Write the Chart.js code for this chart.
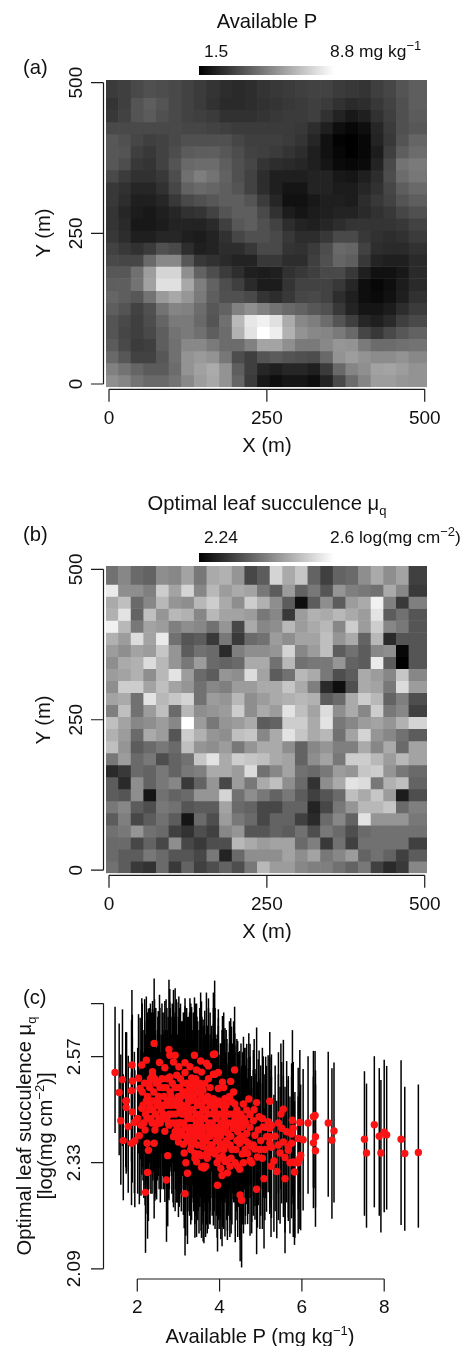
<!DOCTYPE html>
<html>
<head>
<meta charset="utf-8">
<script src="https://cdn.jsdelivr.net/npm/chart.js@4/dist/chart.umd.min.js"></script>
<style>
html, body { margin: 0; padding: 0; background: #fff; }
#page { position: relative; width: 464px; height: 1346px; overflow: hidden; font-family: "Liberation Sans", Arial, sans-serif; color: #111; }
canvas { position: absolute; left: 0; }
.t { position: absolute; white-space: nowrap; font-size: 20.2px; line-height: 22px; }
.key { font-size: 17.4px; }
.key sup { font-size: 11.5px; }
.rot { transform: translate(-50%, -50%) rotate(-90deg); }
.mid { transform: translateX(-50%); }
.t sup, .t sub { font-size: 13px; line-height: 0; }
.ramp { position: absolute; left: 199px; width: 135px; background: linear-gradient(to right, #000, #fff); }
</style>
</head>
<body>
<div id="page">
  <canvas id="panelA"></canvas>
  <canvas id="panelB"></canvas>
  <canvas id="panelC"></canvas>

  <div class="t mid" style="left:267px;top:10px">Available P</div>
  <div class="t key" style="left:204px;top:40px">1.5</div>
  <div class="t key" style="left:330px;top:40px">8.8 mg kg<sup>−1</sup></div>
  <div class="ramp" style="top:66px;height:9px"></div>
  <div class="t" style="left:23px;top:56px">(a)</div>
  <div class="t mid" style="left:267px;top:434px">X (m)</div>
  <div class="t rot" style="left:43px;top:233px">Y (m)</div>

  <div class="t mid" style="left:267px;top:492px">Optimal leaf succulence μ<sub>q</sub></div>
  <div class="t key" style="left:204px;top:526px">2.24</div>
  <div class="t key" style="left:330px;top:526px">2.6 log(mg cm<sup>−2</sup>)</div>
  <div class="ramp" style="top:553px;height:9px"></div>
  <div class="t" style="left:23px;top:523px">(b)</div>
  <div class="t mid" style="left:267px;top:920px">X (m)</div>
  <div class="t rot" style="left:43px;top:720px">Y (m)</div>

  <div class="t" style="left:23px;top:986px">(c)</div>
  <div class="t rot" style="left:24px;top:1136px">Optimal leaf succulence μ<sub>q</sub></div>
  <div class="t rot" style="left:45px;top:1136px">[log(mg cm<sup>−2</sup>)]</div>
  <div class="t mid" style="left:260px;top:1325px">Available P (mg kg<sup>−1</sup>)</div>
</div>

<script>
// cell edges in metres, and tick values
const gridEdges = [-5, 15, 35, 55, 75, 95, 115, 135, 155, 175, 195, 215, 235, 255, 275, 295, 315, 335, 355, 375, 395, 415, 435, 455, 475, 505];
const rowEdges = gridEdges.slice().reverse();
const mapTicks = [0, 250, 500];
const pTicks = [2, 4, 6, 8];
const muTicks = [2.09, 2.33, 2.57, 2.69];
const muTickLabels = ['2.09', '2.33', '2.57', ''];

// panel (a) available P, rows from the top
const availableP = [
[3.2,3.3,3.6,3.8,3.7, 3.6,3.4,3.2,3.0,2.8, 2.7,2.8,3.0,3.1,3.2, 3.3,3.4,3.4,3.2,3.1, 3.0,3.3,3.5,3.9,4.2],
[3.0,3.3,3.9,4.2,3.9, 3.6,3.4,3.2,2.9,2.7, 2.7,2.8,2.9,3.0,3.1, 3.2,3.3,3.2,2.9,2.7, 2.8,3.1,3.4,3.8,4.2],
[3.1,3.4,3.9,4.1,3.8, 3.6,3.4,3.3,3.2,2.9, 2.9,2.9,3.0,3.1,3.2, 3.2,3.3,2.9,2.5,2.2, 2.4,2.9,3.3,3.8,4.1],
[3.6,3.6,3.6,3.6,3.6, 3.6,3.5,3.5,3.4,3.3, 3.2,3.2,3.2,3.2,3.2, 3.1,2.8,2.4,1.9,1.7, 1.9,2.6,3.2,3.8,4.0],
[4.0,3.8,3.5,3.3,3.4, 3.6,3.8,3.8,3.8,3.8, 3.5,3.3,3.3,3.3,3.2, 3.0,2.6,2.0,1.6,1.5, 1.7,2.5,3.1,3.9,4.4],
[4.0,3.9,3.3,3.1,3.4, 3.7,4.1,4.2,4.2,4.0, 3.7,3.4,3.3,3.2,3.0, 2.8,2.4,2.0,1.7,1.5, 1.7,2.3,3.3,4.2,4.6],
[4.0,3.7,3.1,3.0,3.4, 3.9,4.5,4.6,4.6,4.2, 3.8,3.5,3.0,2.8,2.7, 2.6,2.4,2.1,1.8,1.7, 1.8,2.5,3.6,4.8,5.0],
[3.6,3.2,2.9,2.9,3.1, 3.7,4.7,5.1,4.8,4.3, 3.8,3.4,2.8,2.4,2.4, 2.4,2.5,2.5,2.2,2.1, 2.4,2.8,3.7,4.6,4.9],
[3.1,2.9,2.6,2.6,2.9, 3.5,4.3,4.5,4.4,4.2, 3.9,3.4,2.8,2.4,2.1, 2.1,2.5,2.5,2.3,2.3, 2.6,2.9,3.5,4.2,4.5],
[3.1,2.8,2.4,2.4,2.6, 3.1,3.6,3.8,4.0,4.2, 4.2,3.9,3.2,2.6,2.0, 2.0,2.2,2.4,2.4,2.3, 2.8,3.1,3.4,3.9,4.2],
[3.0,2.6,2.3,2.2,2.4, 2.6,2.9,3.0,3.4,3.9, 4.2,4.2,3.6,2.9,2.3, 2.1,2.3,2.4,2.5,2.5, 2.7,2.9,3.1,3.5,3.8],
[3.0,2.7,2.2,2.2,2.3, 2.5,2.5,2.5,2.7,3.3, 4.0,4.2,3.8,3.4,2.8, 2.5,2.4,2.6,2.8,3.0, 3.0,3.0,3.0,3.1,3.4],
[3.1,2.8,2.4,2.4,2.6, 2.6,2.4,2.3,2.5,2.9, 3.5,3.8,3.8,3.6,3.1, 2.8,2.8,3.1,3.6,3.6, 3.1,2.9,2.8,2.9,3.2],
[3.4,3.1,2.9,3.2,3.8, 3.6,2.8,2.4,2.5,2.8, 2.8,3.1,3.6,3.6,3.0, 2.9,3.2,3.7,4.5,4.4, 3.4,2.8,2.7,2.7,2.9],
[3.6,3.5,3.5,4.5,5.4, 5.4,4.0,3.1,2.9,2.7, 2.5,2.5,3.1,3.1,2.8, 2.8,3.3,3.8,4.4,4.2, 3.1,2.5,2.4,2.4,2.7],
[4.0,4.0,4.7,6.0,7.6, 7.6,5.6,4.3,3.7,3.2, 2.8,2.4,2.3,2.4,2.9, 3.1,3.3,3.6,3.6,3.1, 2.4,2.0,2.0,2.2,2.7],
[4.2,4.2,4.8,6.1,7.9, 7.9,6.3,5.1,4.3,3.7, 3.3,2.7,2.3,2.3,3.0, 3.4,3.4,3.4,3.1,2.6, 1.9,1.7,1.9,2.3,2.7],
[4.4,4.2,4.0,4.8,5.9, 6.3,5.8,5.0,4.2,3.8, 3.8,3.6,3.0,2.8,3.1, 3.5,3.6,3.4,2.8,2.4, 1.9,1.8,2.0,2.4,2.9],
[4.2,3.9,3.4,3.8,4.8, 5.3,5.2,4.6,4.0,4.3, 5.2,5.6,5.2,4.8,4.5, 4.3,4.0,3.8,3.1,2.5, 2.1,2.1,2.3,2.8,3.2],
[3.9,3.6,3.3,3.7,4.4, 5.0,5.0,4.5,3.9,4.7, 6.8,8.1,8.4,7.9,6.4, 5.4,5.1,4.6,3.9,3.3, 2.6,2.4,2.7,3.3,3.6],
[3.9,3.5,3.3,3.6,4.2, 4.8,5.0,4.7,4.2,4.6, 6.6,8.0,8.8,8.3,6.6, 5.7,5.4,5.3,5.0,4.5, 3.5,3.1,3.6,4.0,4.3],
[4.1,3.6,3.2,3.3,4.2, 4.7,5.4,5.4,5.0,4.6, 4.6,5.2,6.2,6.2,5.6, 5.0,5.0,5.4,5.8,5.7, 5.0,4.6,4.6,4.7,4.8],
[4.5,4.0,3.4,3.4,4.0, 4.7,5.7,5.9,5.7,4.9, 3.7,3.3,3.9,4.1,3.9, 3.8,3.7,4.5,5.7,6.0, 5.7,5.5,5.5,5.7,5.4],
[5.2,4.8,4.4,4.1,4.1, 4.6,5.7,6.1,6.4,5.7, 4.2,3.3,2.6,2.4,2.6, 2.6,2.4,3.2,4.5,5.3, 5.6,6.1,6.2,6.0,5.7],
[5.6,5.3,4.8,4.5,4.5, 4.8,5.4,6.0,6.3,5.7, 4.4,3.2,2.2,1.9,2.1, 2.1,1.9,2.5,3.6,4.6, 5.3,6.0,6.0,5.8,5.7]
];

// panel (b) optimal leaf succulence, rows from the top
const succulence = [
[2.40,2.43,2.39,2.38,2.44, 2.43,2.47,2.41,2.48,2.49, 2.45,2.34,2.37,2.54,2.48, 2.52,2.38,2.33,2.38,2.39, 2.44,2.48,2.44,2.47,2.33],
[2.57,2.44,2.44,2.42,2.53, 2.47,2.54,2.43,2.50,2.46, 2.48,2.47,2.41,2.37,2.46, 2.38,2.41,2.36,2.45,2.42, 2.41,2.40,2.48,2.43,2.32],
[2.48,2.51,2.39,2.43,2.50, 2.45,2.44,2.50,2.53,2.48, 2.44,2.53,2.49,2.44,2.37, 2.26,2.37,2.44,2.37,2.46, 2.48,2.58,2.42,2.32,2.42],
[2.49,2.56,2.38,2.51,2.45, 2.50,2.49,2.43,2.50,2.47, 2.47,2.46,2.41,2.43,2.32, 2.46,2.49,2.48,2.50,2.48, 2.46,2.56,2.37,2.40,2.36],
[2.58,2.50,2.41,2.47,2.46, 2.42,2.44,2.43,2.40,2.45, 2.34,2.48,2.43,2.44,2.50, 2.46,2.48,2.50,2.43,2.53, 2.46,2.53,2.43,2.41,2.36],
[2.49,2.46,2.55,2.47,2.57, 2.40,2.36,2.37,2.32,2.41, 2.32,2.39,2.40,2.46,2.44, 2.47,2.47,2.51,2.45,2.48, 2.38,2.50,2.30,2.36,2.36],
[2.46,2.44,2.47,2.46,2.52, 2.45,2.37,2.40,2.39,2.30, 2.42,2.44,2.44,2.45,2.54, 2.43,2.46,2.51,2.37,2.40, 2.37,2.43,2.44,2.25,2.36],
[2.44,2.48,2.49,2.55,2.50, 2.45,2.41,2.46,2.39,2.38, 2.39,2.48,2.48,2.40,2.50, 2.40,2.41,2.41,2.45,2.38, 2.37,2.57,2.37,2.24,2.36],
[2.46,2.47,2.49,2.44,2.50, 2.56,2.46,2.39,2.37,2.45, 2.44,2.55,2.47,2.37,2.40, 2.50,2.48,2.41,2.35,2.37, 2.48,2.46,2.43,2.52,2.43],
[2.44,2.53,2.53,2.47,2.51, 2.47,2.45,2.40,2.43,2.42, 2.46,2.46,2.48,2.48,2.52, 2.48,2.42,2.30,2.26,2.35, 2.48,2.47,2.41,2.55,2.46],
[2.47,2.48,2.40,2.56,2.50, 2.52,2.54,2.40,2.46,2.45, 2.50,2.44,2.46,2.48,2.49, 2.50,2.49,2.37,2.39,2.48, 2.53,2.50,2.38,2.42,2.35],
[2.42,2.51,2.40,2.46,2.51, 2.39,2.50,2.44,2.45,2.46, 2.53,2.44,2.48,2.46,2.56, 2.51,2.47,2.55,2.44,2.48, 2.43,2.53,2.41,2.43,2.33],
[2.51,2.47,2.43,2.44,2.46, 2.43,2.60,2.46,2.41,2.45, 2.46,2.48,2.37,2.38,2.53, 2.53,2.48,2.56,2.41,2.43, 2.46,2.47,2.45,2.49,2.54],
[2.49,2.46,2.39,2.48,2.46, 2.36,2.53,2.49,2.45,2.44, 2.51,2.52,2.43,2.48,2.56, 2.52,2.48,2.50,2.40,2.47, 2.54,2.45,2.43,2.40,2.37],
[2.51,2.45,2.37,2.39,2.41, 2.39,2.51,2.45,2.44,2.46, 2.41,2.45,2.48,2.48,2.44, 2.38,2.43,2.45,2.42,2.42, 2.48,2.43,2.48,2.39,2.47],
[2.41,2.46,2.39,2.41,2.35, 2.38,2.40,2.52,2.56,2.48, 2.53,2.52,2.51,2.48,2.47, 2.38,2.44,2.47,2.41,2.53, 2.53,2.50,2.46,2.50,2.47],
[2.30,2.32,2.39,2.38,2.41, 2.38,2.41,2.42,2.48,2.48, 2.46,2.55,2.40,2.43,2.47, 2.40,2.39,2.41,2.46,2.45, 2.52,2.53,2.45,2.41,2.39],
[2.37,2.30,2.44,2.38,2.41, 2.43,2.32,2.38,2.45,2.34, 2.46,2.41,2.48,2.51,2.44, 2.39,2.31,2.44,2.48,2.56, 2.55,2.41,2.49,2.51,2.38],
[2.37,2.36,2.44,2.27,2.40, 2.38,2.39,2.45,2.45,2.54, 2.40,2.44,2.41,2.38,2.41, 2.37,2.33,2.36,2.39,2.51, 2.48,2.52,2.46,2.28,2.35],
[2.41,2.43,2.37,2.35,2.41, 2.40,2.36,2.37,2.37,2.47, 2.39,2.38,2.34,2.34,2.38, 2.38,2.29,2.34,2.41,2.45, 2.50,2.50,2.52,2.39,2.42],
[2.37,2.42,2.34,2.37,2.40, 2.37,2.27,2.39,2.35,2.46, 2.41,2.39,2.34,2.38,2.38, 2.33,2.30,2.39,2.43,2.38, 2.56,2.45,2.45,2.45,2.41],
[2.40,2.41,2.45,2.40,2.39, 2.33,2.31,2.35,2.33,2.43, 2.45,2.36,2.36,2.38,2.37, 2.40,2.35,2.41,2.39,2.35, 2.39,2.40,2.40,2.40,2.40],
[2.39,2.39,2.34,2.38,2.34, 2.44,2.34,2.32,2.35,2.35, 2.50,2.48,2.46,2.47,2.47, 2.39,2.42,2.32,2.40,2.33, 2.40,2.40,2.40,2.40,2.33],
[2.39,2.37,2.37,2.41,2.39, 2.36,2.36,2.34,2.41,2.29, 2.39,2.44,2.44,2.44,2.47, 2.44,2.47,2.41,2.43,2.46, 2.38,2.40,2.38,2.33,2.37],
[2.40,2.37,2.32,2.31,2.39, 2.32,2.38,2.33,2.35,2.38, 2.35,2.41,2.50,2.46,2.46, 2.43,2.42,2.42,2.40,2.38, 2.41,2.33,2.30,2.32,2.43]
];

// panel (c) posterior means with their intervals
const pX = [
1.46,1.56,1.64,1.60,1.73,1.74,1.78,1.66,1.86,1.87,
1.94,2.05,2.25,2.71,2.20,3.16,2.74,3.22,3.18,3.14,
2.27,2.24,2.41,2.11,2.22,2.54,2.77,2.79,2.92,2.88,
3.16,3.39,3.01,2.67,2.37,2.37,3.28,3.44,3.54,3.68,
3.73,3.85,3.85,3.32,3.16,2.79,2.96,2.03,1.88,1.86,
2.07,2.27,2.51,3.64,3.60,1.72,1.88,2.11,2.24,2.01,
1.93,2.09,2.19,2.47,2.43,2.77,2.67,2.88,3.00,3.12,
2.41,3.40,3.55,3.40,3.44,3.60,3.66,3.85,3.77,3.60,
2.12,2.18,2.25,2.30,2.35,2.40,2.45,2.50,2.55,2.60,
2.65,2.70,2.75,2.80,2.85,2.90,2.95,3.00,3.05,3.10,
3.15,3.20,3.25,3.30,3.35,3.40,3.45,3.50,3.55,3.60,
2.14,2.20,2.28,2.33,2.38,2.44,2.49,2.53,2.58,2.63,
2.68,2.72,2.78,2.83,2.87,2.93,2.98,3.03,3.08,3.13,
3.18,3.23,3.28,3.33,3.38,3.43,3.48,3.53,3.58,3.63,
3.68,3.72,3.77,3.82,3.87,3.92,3.97,4.02,4.07,4.12,
3.03,3.07,3.12,3.22,3.27,3.37,3.42,3.47,3.52,3.57,
2.92,2.97,3.02,3.07,3.17,3.22,3.27,3.32,3.37,3.42,
3.47,3.52,3.57,3.62,3.67,3.72,3.77,3.82,3.87,3.92,
3.97,4.02,4.07,4.12,4.17,4.22,4.27,4.32,4.37,4.42,
3.88,4.365,3.89,3.97,4.27,4.07,3.73,3.56,5.22,5.55,
4.71,4.90,4.58,6.28,6.32,6.15,5.95,5.77,6.33,6.03,
6.28,6.33,5.97,5.91,5.83,5.71,5.82,5.59,5.39,5.32,
5.25,5.08,4.92,4.90,4.50,4.535,3.95,4.06,4.19,4.03,
4.25,3.62,3.56,4.49,4.44,4.78,4.74,4.68,4.19,4.13,
4.07,3.89,3.70,4.40,4.37,4.29,4.13,3.85,3.62,3.77,
3.97,4.66,4.74,4.96,4.44,4.37,4.49,4.82,5.18,5.26,
5.43,5.22,5.06,5.51,5.63,5.79,5.75,5.14,5.22,4.94,
4.86,4.66,4.49,4.33,4.21,4.01,3.85,3.73,5.43,5.22,
5.26,5.55,5.67,5.75,5.91,5.47,5.59,4.70,4.78,4.86,
4.49,4.21,4.01,3.75,3.60,5.67,5.79,5.95,6.64,6.78,
6.73,7.52,7.57,7.76,7.88,7.92,8.00,8.06,8.41,8.50,
8.83,4.52,4.56,4.60,4.63,4.84,5.00,5.04,5.10,5.35,
5.49,5.12,4.16,4.24,4.34,4.10,4.18,4.30,4.42,4.55,
2.32,2.42,2.62,2.72,2.82,2.92,3.02,3.11,3.21,3.31,
3.36,3.46,3.56,3.66,3.71,3.81,3.91,3.96,4.06,4.11,
2.22,2.31,2.42,2.52,2.62,2.73,2.84,2.94,3.04,3.14,
3.24,3.34,3.44,3.54,3.64,3.74,3.84,3.94,4.04,4.14,
2.16,2.26,2.36,2.46,2.56,2.66,2.76,2.96,3.06,3.16,
3.26,3.36,3.46,3.56,3.76,3.86,3.96,4.16,4.26,4.46,
4.04,4.24,4.34,4.44,4.54,4.64,4.74,4.28,4.38,3.99,
3.30,3.50,3.68,3.94,4.10,4.58,4.62,4.82,4.98,5.04
];
const pY = [
2.534,2.489,2.518,2.425,2.455,2.470,2.412,2.380,2.374,2.551,
2.379,2.391,2.308,2.291,2.263,2.260,2.346,2.306,2.330,2.352,
2.358,2.374,2.600,2.551,2.562,2.557,2.586,2.573,2.573,2.558,
2.556,2.573,2.547,2.545,2.536,2.528,2.547,2.540,2.560,2.555,
2.549,2.575,2.530,2.522,2.534,2.524,2.528,2.521,2.515,2.493,
2.498,2.509,2.513,2.509,2.494,2.470,2.445,2.453,2.430,2.430,
2.421,2.415,2.404,2.417,2.404,2.415,2.401,2.389,2.377,2.372,
2.374,2.351,2.346,2.340,2.332,2.322,2.322,2.358,2.370,2.366,
2.49,2.51,2.48,2.50,2.47,2.49,2.51,2.47,2.50,2.52,
2.48,2.50,2.46,2.49,2.51,2.47,2.50,2.48,2.52,2.46,
2.49,2.51,2.47,2.49,2.45,2.50,2.47,2.43,2.48,2.45,
2.46,2.44,2.45,2.43,2.45,2.44,2.46,2.43,2.45,2.44,
2.46,2.43,2.44,2.46,2.42,2.44,2.46,2.42,2.44,2.42,
2.45,2.43,2.41,2.43,2.41,2.44,2.40,2.42,2.40,2.43,
2.47,2.44,2.46,2.42,2.45,2.43,2.47,2.44,2.42,2.45,
2.50,2.48,2.51,2.48,2.50,2.48,2.52,2.49,2.51,2.50,
2.40,2.41,2.39,2.40,2.39,2.38,2.39,2.37,2.38,2.39,
2.37,2.39,2.37,2.39,2.38,2.36,2.39,2.37,2.40,2.38,
2.36,2.39,2.37,2.40,2.38,2.42,2.39,2.44,2.41,2.38,
2.576,2.540,2.530,2.534,2.514,2.512,2.520,2.535,2.469,2.451,
2.474,2.466,2.463,2.434,2.437,2.420,2.421,2.426,2.389,2.382,
2.375,2.357,2.347,2.330,2.330,2.330,2.309,2.294,2.310,2.334,
2.322,2.294,2.343,2.270,2.257,2.245,2.279,2.301,2.307,2.317,
2.322,2.318,2.320,2.315,2.322,2.330,2.335,2.351,2.336,2.333,
2.345,2.350,2.340,2.360,2.463,2.468,2.475,2.475,2.470,2.500,
2.498,2.449,2.439,2.434,2.435,2.426,2.423,2.425,2.423,2.415,
2.420,2.408,2.411,2.408,2.400,2.408,2.395,2.389,2.389,2.404,
2.392,2.396,2.385,2.408,2.396,2.404,2.396,2.411,2.370,2.374,
2.365,2.377,2.366,2.374,2.385,2.352,2.342,2.374,2.366,2.361,
2.374,2.370,2.374,2.352,2.381,2.358,2.332,2.340,2.420,2.402,
2.381,2.383,2.352,2.416,2.390,2.352,2.399,2.393,2.383,2.351,
2.353,2.44,2.41,2.43,2.38,2.45,2.38,2.43,2.36,2.39,
2.44,2.41,2.46,2.48,2.49,2.50,2.44,2.36,2.45,2.35,
2.52,2.52,2.50,2.52,2.48,2.50,2.47,2.49,2.46,2.47,
2.51,2.46,2.46,2.45,2.48,2.47,2.46,2.44,2.46,2.43,
2.47,2.46,2.47,2.48,2.46,2.47,2.44,2.46,2.45,2.44,
2.44,2.45,2.42,2.44,2.41,2.42,2.44,2.41,2.42,2.41,
2.42,2.43,2.42,2.42,2.42,2.43,2.42,2.42,2.42,2.41,
2.40,2.40,2.41,2.41,2.40,2.41,2.39,2.40,2.37,2.41,
2.40,2.44,2.42,2.40,2.39,2.42,2.41,2.34,2.33,2.34,
2.36,2.35,2.35,2.33,2.36,2.33,2.36,2.37,2.36,2.34
];
const errUp = [
.149,.156,.159,.15,.17,.155,.16,.15,.16,.17,
.16,.15,.16,.16,.17,.17,.17,.18,.17,.16,
.17,.16,.147,.151,.144,.153,.158,.15,.152,.163,
.146,.131,.159,.151,.16,.15,.155,.15,.155,.16,
.153,.14,.15,.16,.15,.17,.165,.145,.15,.16,
.16,.17,.16,.165,.16,.155,.17,.17,.17,.16,
.16,.17,.16,.16,.17,.17,.18,.17,.18,.17,
.17,.17,.18,.17,.18,.17,.18,.17,.18,.17,
.2,.19,.19,.18,.2,.18,.17,.19,.18,.17,
.19,.2,.2,.19,.18,.19,.2,.18,.17,.19,
.18,.17,.19,.2,.18,.17,.19,.2,.18,.19,
.17,.18,.17,.18,.17,.18,.17,.18,.17,.18,
.17,.18,.17,.16,.18,.17,.16,.18,.17,.18,
.16,.17,.18,.17,.16,.17,.18,.17,.18,.16,
.17,.18,.16,.17,.16,.18,.17,.16,.17,.16,
.18,.17,.16,.18,.17,.16,.17,.16,.17,.16,
.17,.18,.17,.18,.17,.18,.17,.18,.17,.18,
.17,.16,.18,.17,.18,.17,.16,.17,.16,.17,
.17,.16,.17,.16,.17,.16,.17,.16,.17,.16,
.166,.143,.15,.143,.143,.15,.16,.16,.157,.157,
.149,.17,.152,.149,.146,.151,.164,.204,.15,.16,
.15,.15,.16,.15,.16,.15,.16,.16,.16,.15,
.15,.16,.17,.16,.17,.16,.17,.17,.17,.17,
.17,.18,.17,.17,.18,.17,.16,.17,.17,.18,
.17,.18,.17,.17,.16,.17,.16,.17,.16,.17,
.16,.15,.16,.15,.17,.17,.16,.16,.15,.16,
.16,.16,.16,.15,.16,.15,.16,.16,.15,.16,
.15,.17,.16,.17,.16,.17,.18,.17,.16,.15,
.16,.15,.16,.15,.16,.15,.16,.17,.16,.17,
.16,.17,.17,.18,.17,.16,.16,.15,.161,.155,
.163,.154,.157,.155,.154,.165,.164,.156,.179,.151,
.154,.16,.17,.16,.17,.16,.17,.16,.17,.16,
.16,.16,.17,.17,.16,.17,.17,.18,.16,.17,
.17,.18,.17,.16,.18,.17,.18,.16,.17,.18,
.16,.17,.18,.17,.16,.17,.16,.18,.17,.16,
.18,.17,.16,.18,.17,.16,.18,.17,.16,.18,
.17,.16,.18,.17,.16,.18,.17,.16,.18,.17,
.16,.17,.18,.17,.16,.18,.17,.16,.18,.17,
.18,.16,.17,.18,.16,.17,.18,.17,.16,.17,
.17,.16,.17,.18,.16,.17,.16,.17,.16,.18,
.17,.18,.16,.17,.16,.17,.16,.17,.16,.17
];
const errDown = [
.137,.142,.15,.145,.15,.16,.15,.135,.14,.16,
.15,.155,.15,.14,.137,.14,.16,.16,.165,.17,
.16,.16,.16,.16,.16,.17,.17,.16,.17,.165,
.17,.17,.16,.16,.17,.16,.16,.17,.16,.17,
.16,.17,.16,.17,.16,.16,.15,.17,.155,.16,
.16,.15,.17,.15,.17,.15,.16,.15,.17,.17,
.16,.16,.17,.17,.16,.17,.16,.16,.17,.16,
.17,.16,.17,.18,.17,.17,.16,.17,.18,.17,
.17,.16,.18,.17,.16,.18,.17,.16,.18,.17,
.17,.18,.16,.17,.18,.16,.17,.18,.17,.16,
.18,.17,.16,.18,.17,.16,.18,.17,.16,.18,
.17,.16,.18,.17,.16,.18,.17,.16,.18,.17,
.16,.18,.17,.16,.18,.17,.16,.18,.17,.16,
.18,.17,.16,.18,.17,.16,.18,.17,.16,.18,
.17,.16,.18,.17,.16,.18,.17,.16,.18,.17,
.16,.18,.17,.16,.18,.17,.16,.18,.17,.16,
.18,.17,.16,.18,.17,.16,.18,.17,.16,.18,
.17,.16,.18,.17,.16,.18,.17,.16,.18,.17,
.16,.18,.17,.16,.18,.17,.16,.18,.17,.16,
.17,.16,.16,.15,.16,.17,.16,.15,.16,.165,
.16,.16,.16,.16,.165,.16,.16,.17,.16,.16,
.148,.172,.17,.16,.17,.16,.165,.169,.151,.16,
.16,.158,.16,.147,.15,.152,.15,.16,.152,.16,
.16,.17,.16,.16,.16,.16,.17,.16,.16,.17,
.16,.17,.17,.16,.17,.16,.16,.17,.17,.16,
.17,.17,.16,.17,.16,.17,.16,.17,.16,.17,
.16,.17,.16,.17,.16,.17,.16,.17,.16,.17,
.16,.16,.17,.16,.17,.16,.17,.16,.17,.16,
.16,.17,.16,.17,.16,.16,.17,.16,.17,.16,
.17,.16,.17,.16,.17,.16,.17,.16,.167,.162,
.178,.173,.169,.187,.18,.18,.181,.169,.194,.175,
.17,.17,.16,.16,.17,.16,.17,.16,.16,.17,
.17,.16,.16,.17,.16,.17,.16,.17,.16,.16,
.16,.17,.18,.16,.17,.18,.16,.17,.18,.16,
.17,.18,.16,.17,.18,.16,.17,.18,.16,.17,
.18,.16,.17,.18,.16,.17,.18,.16,.17,.18,
.16,.17,.18,.16,.17,.18,.16,.17,.18,.16,
.17,.18,.16,.17,.18,.16,.17,.18,.16,.17,
.18,.16,.17,.18,.16,.17,.18,.16,.17,.18,
.16,.17,.18,.16,.17,.18,.16,.17,.18,.16,
.17,.18,.16,.17,.18,.16,.17,.16,.18,.16
];

// draws the R style axes, set off from the plot, from the scales' own ticks
const offsetAxes = {
    id: 'offsetAxes',
    afterDraw(chart, args, opts) {
        const { ctx, chartArea, scales } = chart;
        const xTicks = scales.x.ticks.map(t => scales.x.getPixelForValue(t.value));
        const yTicks = scales.y.ticks.map(t => scales.y.getPixelForValue(t.value));
        const axisY = chartArea.bottom + opts.gapX;
        const axisX = chartArea.left - opts.gapY;
        ctx.save();
        ctx.strokeStyle = '#1a1a1a';
        ctx.lineWidth = 1.2;
        ctx.beginPath();
        ctx.moveTo(xTicks[0], axisY);
        ctx.lineTo(xTicks[xTicks.length - 1], axisY);
        xTicks.forEach(px => { ctx.moveTo(px, axisY); ctx.lineTo(px, axisY + 12.5); });
        ctx.moveTo(axisX, yTicks[0]);
        ctx.lineTo(axisX, yTicks[yTicks.length - 1]);
        yTicks.forEach(py => { ctx.moveTo(axisX, py); ctx.lineTo(axisX - 12.5, py); });
        ctx.stroke();
        ctx.restore();
    }
};

function axisOptions(min, max, tickValues, isY, width, labels) {
    return {
        type: 'linear',
        min: min,
        max: max,
        offset: false,
        grid: { display: false, drawTicks: false },
        border: { display: false },
        afterBuildTicks: s => { s.ticks = tickValues.map(v => ({ value: v })); },
        afterFit: s => { if (isY) s.width = width; else s.height = width; },
        ticks: {
            autoSkip: false,
            color: '#111',
            font: { family: '"Liberation Sans", Arial, sans-serif', size: 19 },
            padding: isY ? 13 : 20,
            minRotation: isY ? 90 : 0,
            maxRotation: isY ? 90 : 0,
            crossAlign: isY ? 'center' : 'near',
            callback: v => labels ? labels[tickValues.indexOf(v)] : String(v)
        }
    };
}

function heatMap(id, canvasTop, canvasHeight, plotTop, plotBottom, rows, vMin, vMax, yMin, yMax) {
    const canvas = document.getElementById(id);
    canvas.style.top = canvasTop + 'px';
    canvas.width = 464;
    canvas.height = canvasHeight;
    const pxPerM = (plotBottom - plotTop) / (yMax - yMin);
    const shade = v => {
        const g = Math.round((v - vMin) / (vMax - vMin) * 255);
        return `rgb(${g},${g},${g})`;
    };
    // one floating horizontal bar per cell, one dataset per row
    const datasets = rows.map((row, r) => ({
        data: row.map((v, c) => ({
            x: [gridEdges[c], gridEdges[c + 1]],
            y: (rowEdges[r] + rowEdges[r + 1]) / 2
        })),
        backgroundColor: row.map(shade),
        barThickness: (rowEdges[r] - rowEdges[r + 1]) * pxPerM,
        grouped: false
    }));
    new Chart(canvas, {
        type: 'bar',
        data: { datasets },
        options: {
            indexAxis: 'y',
            responsive: false,
            animation: false,
            events: [],
            layout: { autoPadding: false, padding: { top: plotTop - canvasTop, right: 37 } },
            plugins: { legend: { display: false }, tooltip: { enabled: false }, offsetAxes: { gapX: 2, gapY: 2.5 } },
            scales: {
                x: axisOptions(-4.75, 503.6, mapTicks, false, canvasTop + canvasHeight - plotBottom),
                y: axisOptions(yMin, yMax, mapTicks, true, 106)
            }
        },
        plugins: [offsetAxes]
    });
}

heatMap('panelA', 0, 465, 80, 387.3, availableP, 1.5, 8.8, -5.5, 504.4);
heatMap('panelB', 465, 495, 566, 873.3, succulence, 2.24, 2.6, -5.2, 505.6);

// panel (c)
const canvasC = document.getElementById('panelC');
canvasC.style.top = '930px';
canvasC.width = 464;
canvasC.height = 416;
new Chart(canvasC, {
    type: 'bar',
    data: {
        datasets: [
            {
                type: 'scatter',
                data: pX.map((x, i) => ({ x: x, y: pY[i] })),
                backgroundColor: '#fc1414',
                borderWidth: 0,
                pointRadius: 3.7,
                order: 0
            },
            {
                type: 'bar',
                data: pX.map((x, i) => ({ x: x, y: [pY[i] - errDown[i], pY[i] + errUp[i]] })),
                backgroundColor: '#000',
                barThickness: 1.5,
                grouped: false,
                inflateAmount: 0,
                order: 1
            }
        ]
    },
    options: {
        responsive: false,
        animation: false,
        events: [],
        layout: { autoPadding: false, padding: { top: 45, right: 37 } },
        plugins: { legend: { display: false }, tooltip: { enabled: false }, offsetAxes: { gapX: 3, gapY: 2.5 } },
        scales: {
            x: axisOptions(1.24, 9.04, pTicks, false, 70),
            y: axisOptions(2.0737, 2.7547, muTicks, true, 106, muTickLabels)
        }
    },
    plugins: [offsetAxes]
});
</script>
</body>
</html>
